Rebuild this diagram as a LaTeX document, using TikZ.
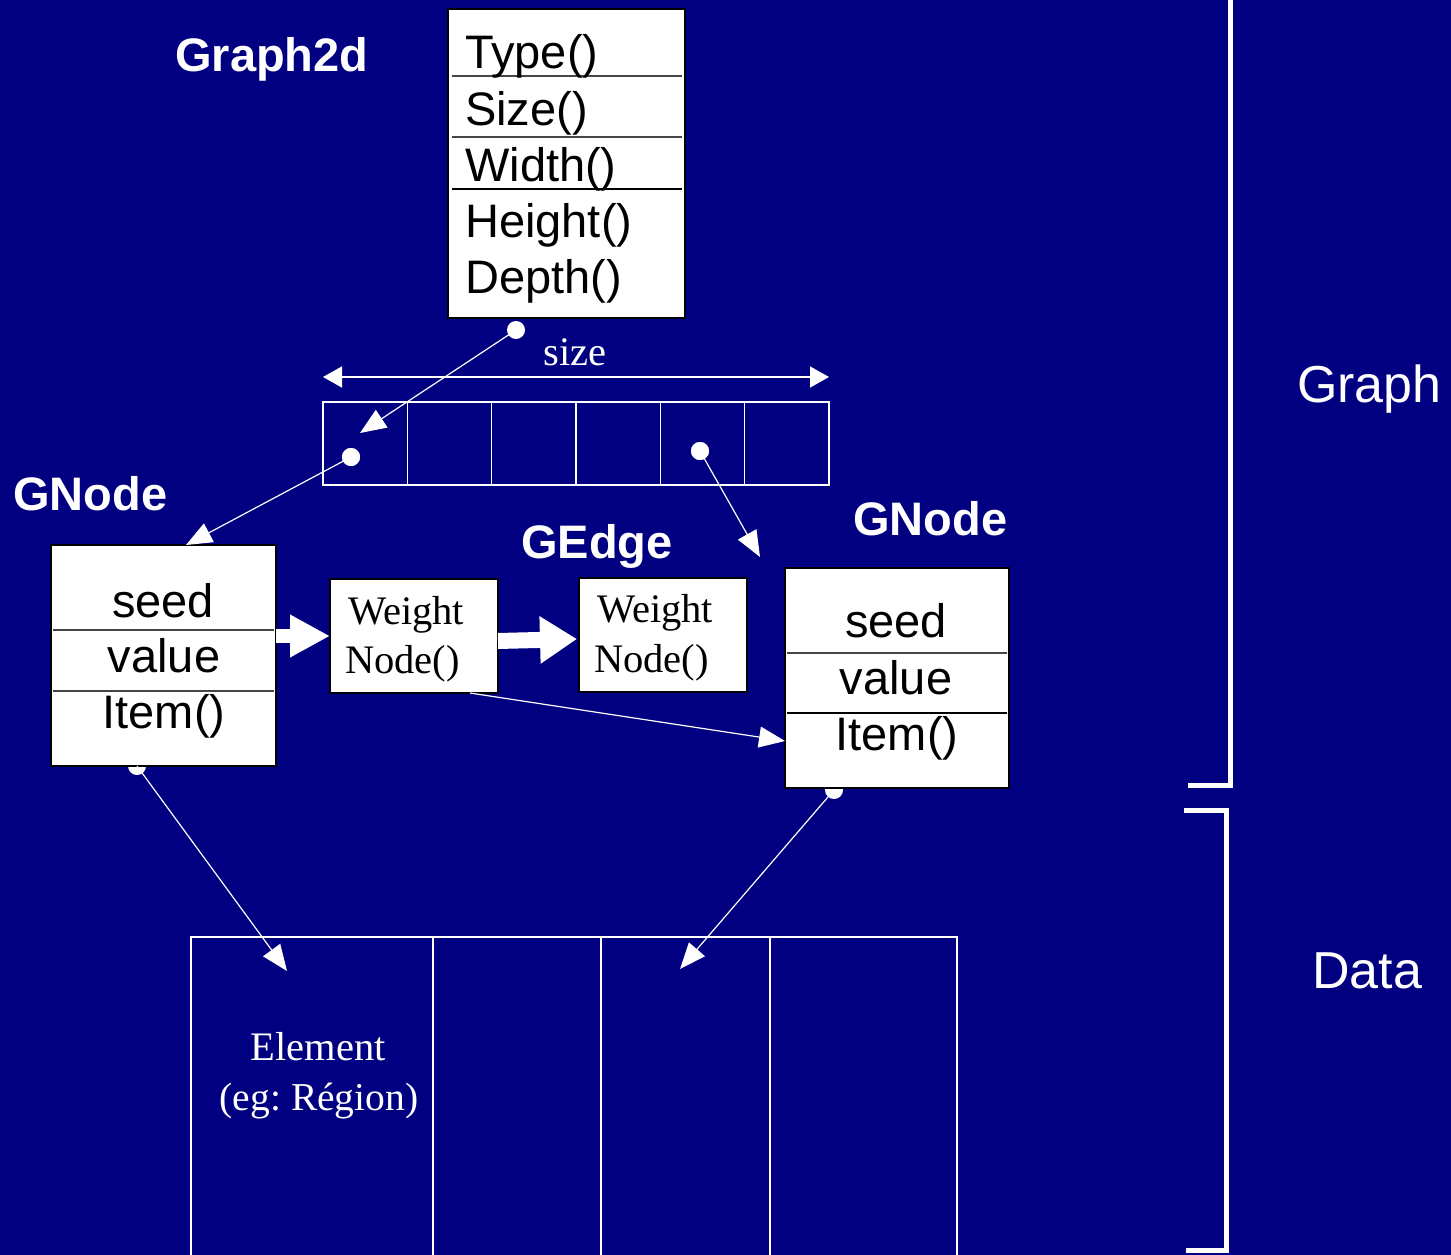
\documentclass[tikz,border=0pt]{standalone}
\usepackage{fontspec}
\setsansfont{Liberation Sans}
\setmainfont{Liberation Serif}
\usetikzlibrary{arrows.meta}
\definecolor{bgnavy}{RGB}{0,0,128}
\definecolor{sepgray}{RGB}{70,70,70}
\frenchspacing
\begin{document}
\begin{tikzpicture}[x=1pt,y=-1pt,
  wbox/.style={draw=black, fill=white, line width=1.2pt, inner sep=0pt, outer sep=0pt},
  cell/.style={draw=white, line width=1.5pt, inner sep=0pt, outer sep=0pt},
  sepline/.style={draw=sepgray, line width=1.5pt},
  sansbig/.style={font=\fontsize{47}{56}\selectfont\sffamily, inner sep=0pt},
  sansbold/.style={font=\fontsize{47}{56}\selectfont\sffamily\bfseries, inner sep=0pt, text=white},
  serif/.style={font=\fontsize{40.5}{48}\selectfont\rmfamily, inner sep=0pt},
  dotst/.style={circle, fill=white, inner sep=0pt, minimum size=18pt},
  conn/.style={draw=white, line width=1.2pt, -{Triangle[length=26pt,width=21pt]}},
  fatarrow/.style={draw=white, line width=#1},
  brk/.style={draw=white, line width=5pt, line join=miter}
]
\useasboundingbox (0,0) rectangle (1451,1255);
\fill[bgnavy] (0,0) rectangle (1451,1255);

% ---------- dots (behind boxes) ----------
\node[dotst] (d1) at (516,330) {};
\node[dotst] (d2) at (351,457) {};
\node[dotst] (d3) at (700,451) {};
\node[dotst] (d4) at (137,766) {};
\node[dotst] (d5) at (834,790) {};

% ---------- arrow end coordinates ----------
\coordinate (t1) at (360,433);
\coordinate (t2) at (186,545);
\coordinate (t3) at (760,557);
\coordinate (t4) at (785,741);
\coordinate (t5) at (287,971);
\coordinate (t6) at (680,969);
\coordinate (w1b) at (470,693);

% ---------- Graph2d box ----------
\node[wbox, minimum width=237pt, minimum height=309pt] (g2d) at (566.5,163.5) {};
\draw[sepline] (452,76) -- (682,76);
\draw[sepline] (452,137) -- (682,137);
\draw[sepline, draw=black] (452,189) -- (682,189);
\node[sansbig, anchor=base west] (mType) at (465,69) {Type()};
\node[sansbig, anchor=base west] (mSize) at (465,125) {Size()};
\node[sansbig, anchor=base west] (mWidth) at (465,181) {Width()};
\node[sansbig, anchor=base west] (mHeight) at (465,237) {Height()};
\node[sansbig, anchor=base west] (mDepth) at (465,293) {Depth()};
\node[sansbold, anchor=base west] (lG2d) at (175,72) {Graph2d};

% ---------- size arrow and array ----------
\coordinate (sL) at (323,377);
\coordinate (sR) at (829,377);
\draw[draw=white, line width=1.5pt, {Triangle[length=19pt,width=21pt]}-{Triangle[length=19pt,width=21pt]}] (sL) -- (sR);
\node[serif, text=white, anchor=base] (lsize) at (575,365) {size};
\foreach \i in {1,...,6} {
  \node[cell, minimum width=84.333pt, minimum height=83pt] (c\i) at ({323+84.333*(\i-0.5)},443.5) {};
}
\node[dotst] at (d2) {};
\node[dotst] at (d3) {};

% ---------- GNode left ----------
\node[wbox, minimum width=225pt, minimum height=221pt] (gnL) at (163.5,655.5) {};
\draw[sepline] (53,630) -- (274,630);
\draw[sepline] (53,691) -- (274,691);
\node[sansbig, anchor=base] (lseed) at (163,617) {seed};
\node[sansbig, anchor=base] (lvalue) at (164,672) {value};
\node[sansbig, anchor=base] (litem) at (164,728) {Item()};
\node[sansbold, anchor=base west] (lGNodeL) at (13,510) {GNode};

% ---------- GNode right ----------
\node[wbox, minimum width=224pt, minimum height=220pt] (gnR) at (897,678) {};
\draw[sepline] (787,653) -- (1007,653);
\draw[sepline, draw=black] (787,713) -- (1007,713);
\node[sansbig, anchor=base] (rseed) at (896,637) {seed};
\node[sansbig, anchor=base] (rvalue) at (896,694) {value};
\node[sansbig, anchor=base] (ritem) at (897,750) {Item()};
\node[sansbold, anchor=base west] (lGNodeR) at (853,535) {GNode};

% ---------- GEdge ----------
\node[wbox, minimum width=168pt, minimum height=114pt] (w1) at (414,636) {};
\node[serif, anchor=base west] (w1a) at (348,624) {Weight};
\node[serif, anchor=base west] (w1n) at (345,673) {Node()};
\node[wbox, minimum width=168pt, minimum height=114pt] (w2) at (663,635) {};
\node[serif, anchor=base west] (w2a) at (597,622) {Weight};
\node[serif, anchor=base west] (w2n) at (594,672) {Node()};
\node[sansbold, anchor=base west] (lGEdge) at (521,558) {GEdge};

% thick arrows
\coordinate (a1s) at (276,636);
\coordinate (a1e) at (330,636);
\coordinate (a2s) at (498,641);
\coordinate (a2e) at (577,639);
\draw[fatarrow=14pt, -{Triangle[length=40pt,width=40pt]}] (a1s) -- (a1e);
\draw[fatarrow=16pt, -{Triangle[length=37pt,width=45pt]}] (a2s) -- (a2e);

% ---------- Data array ----------
\node[cell, minimum width=242pt, minimum height=328pt] (e1) at (312,1101) {};
\node[cell, minimum width=168pt, minimum height=328pt] (e2) at (517,1101) {};
\node[cell, minimum width=169pt, minimum height=328pt] (e3) at (685.5,1101) {};
\node[cell, minimum width=187pt, minimum height=328pt] (e4) at (863.5,1101) {};
\node[serif, text=white, anchor=base] (lelem) at (318,1060) {Element};
\node[serif, text=white, anchor=base, font=\fontsize{39.5}{48}\selectfont\rmfamily] (leg) at (319,1110) {(eg: Région)};

% ---------- connectors ----------
\draw[conn] (d1.center) -- (t1);
\draw[conn] (d2.center) -- (t2);
\draw[conn] (d3.center) -- (t3);
\draw[conn] (w1b) -- (t4);
\draw[conn] (d4.center) -- (t5);
\draw[conn] (d5.center) -- (t6);

% ---------- brackets ----------
\draw[brk] (1230,-5) -- (1230,785) -- (1188,785);
\draw[brk] (1184,810) -- (1226,810) -- (1226,1250) -- (1186,1250);
\node[font=\fontsize{52}{60}\selectfont\sffamily, text=white, inner sep=0pt, anchor=base west] (lGraph) at (1297,402) {Graph};
\node[font=\fontsize{52}{60}\selectfont\sffamily, text=white, inner sep=0pt, anchor=base west] (lData) at (1312,988) {Data};
\end{tikzpicture}
\end{document}
